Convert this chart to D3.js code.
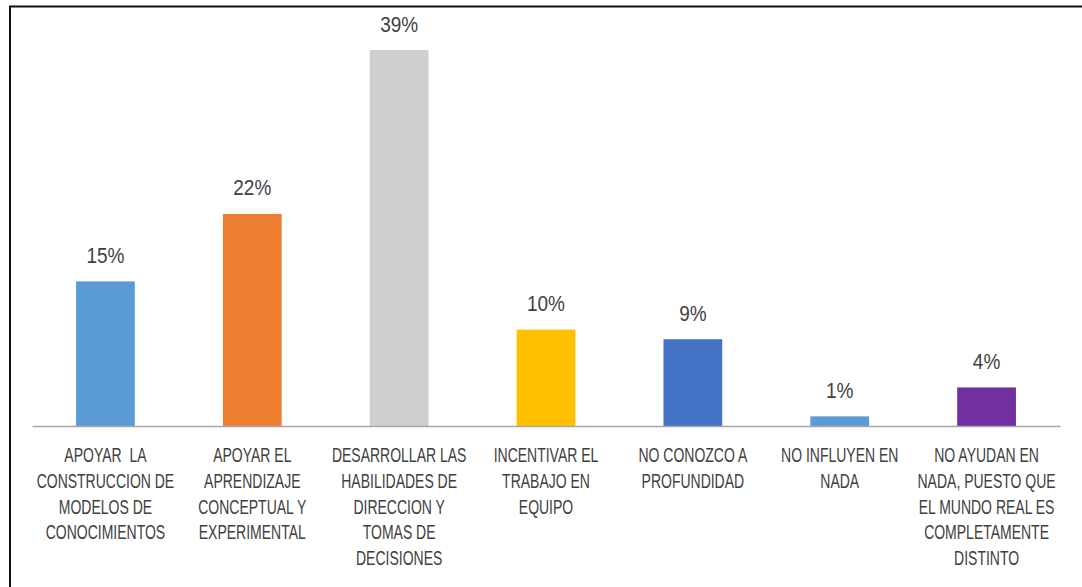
<!DOCTYPE html>
<html>
<head>
<meta charset="utf-8">
<script src="https://cdn.jsdelivr.net/npm/d3@7"></script>
<style>
  html, body { margin: 0; padding: 0; background: #fff; }
  svg { display: block; }
  text { font-family: "Liberation Sans", Arial, sans-serif; fill: #404040; white-space: pre; }
</style>
</head>
<body>
<svg id="chart" width="1082" height="587"></svg>
<script>
// Category labels, one array of lines per bar
const categories = [
  ["APOYAR  LA", "CONSTRUCCION DE", "MODELOS DE", "CONOCIMIENTOS"],
  ["APOYAR EL", "APRENDIZAJE", "CONCEPTUAL Y", "EXPERIMENTAL"],
  ["DESARROLLAR LAS", "HABILIDADES DE", "DIRECCION Y", "TOMAS DE", "DECISIONES"],
  ["INCENTIVAR EL", "TRABAJO EN", "EQUIPO"],
  ["NO CONOZCO A", "PROFUNDIDAD"],
  ["NO INFLUYEN EN", "NADA"],
  ["NO AYUDAN EN", "NADA, PUESTO QUE", "EL MUNDO REAL ES", "COMPLETAMENTE", "DISTINTO"]
];
const values = [0.15, 0.22, 0.39, 0.10, 0.09, 0.01, 0.04];
const colors = ["#5B9BD5", "#ED7D31", "#D0CECE", "#FFC000", "#4472C4", "#5B9BD5", "#7030A0"];

const svg = d3.select("#chart");

// Outer frame (runs past the right and bottom edges of the view)
svg.append("rect")
  .attr("x", 10).attr("y", 6.5)
  .attr("width", 1200).attr("height", 700)
  .attr("fill", "none").attr("stroke", "#111").attr("stroke-width", 2);

const left = 32, right = 1060, baseY = 426;
const ids = d3.range(values.length);

const x = d3.scaleBand()
  .domain(ids)
  .range([left, right])
  .paddingInner(0.6)
  .paddingOuter(0.3);

const y = d3.scaleLinear()
  .domain([0, 0.40])
  .range([baseY, baseY - 385.6]);

// Bars
svg.append("g").selectAll("rect")
  .data(ids)
  .join("rect")
  .attr("x", i => x(i))
  .attr("y", i => y(values[i]))
  .attr("width", x.bandwidth())
  .attr("height", i => y(0) - y(values[i]))
  .attr("fill", i => colors[i]);

// Category axis line
const axis = svg.append("g")
  .attr("transform", `translate(0,${baseY})`)
  .call(d3.axisBottom(x).tickSize(0).tickFormat(""));
axis.select(".domain").attr("stroke", "#A6A6A6").attr("stroke-width", 1.5);

// Value labels above bars
const pct = d3.format(".0%");
svg.append("g").selectAll("text")
  .data(ids)
  .join("text")
  .attr("transform", i => `translate(${x(i) + x.bandwidth() / 2},${y(values[i]) - 18.5}) scale(1,1.17)`)
  .attr("text-anchor", "middle")
  .attr("font-size", 19)
  .text(i => pct(values[i]));

// Multi-line category labels
const lineGap = 25.8, firstBase = 462;
const labelGroups = svg.append("g").selectAll("g")
  .data(ids)
  .join("g");
labelGroups.selectAll("text")
  .data(i => categories[i].map((t, k) => ({ t, k, cx: x(i) + x.bandwidth() / 2 })))
  .join("text")
  .attr("transform", d => `translate(${d.cx},${firstBase + d.k * lineGap}) scale(1,1.4)`)
  .attr("text-anchor", "middle")
  .attr("font-size", 14)
  .text(d => d.t);
</script>
</body>
</html>
